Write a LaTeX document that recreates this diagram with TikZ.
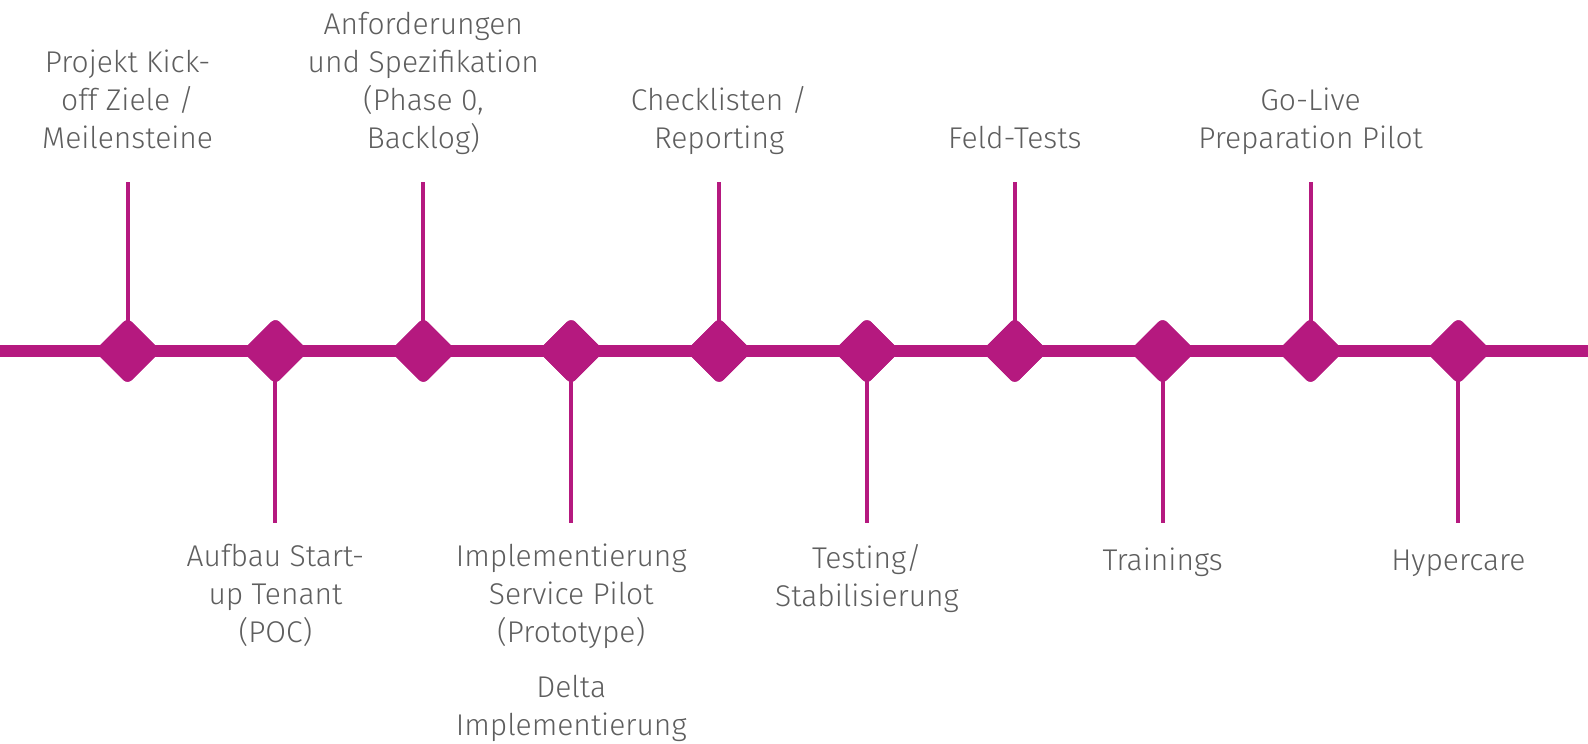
\documentclass[tikz,border=0pt]{standalone}
\usepackage{fontspec}
\setmainfont{Fira Sans}[UprightFont=* Light]
\definecolor{mag}{HTML}{B5197F}
\definecolor{txt}{HTML}{5E5E5E}
\tikzset{
  ms/.style={fill=mag, draw=none, rotate=45, minimum size=47pt, inner sep=0pt, rounded corners=6pt},
  stem/.style={draw=mag, line width=4pt},
  axis/.style={draw=mag, line width=12pt},
  lbl/.style={text=txt, align=center, font=\fontsize{30pt}{38pt}\selectfont, inner sep=0pt,
    execute at begin node=\strut, execute at end node=\strut},
}
\begin{document}
\begin{tikzpicture}[x=1pt,y=-1pt]
\useasboundingbox (0,0) rectangle (1588,744);
\coordinate (L) at (0,351);
\coordinate (R) at (1588,351);
\draw[axis] (L) -- (R);
\foreach \i in {1,...,10}{
  \pgfmathsetmacro{\xx}{127.6+(\i-1)*147.87}
  \pgfmathsetmacro{\yy}{isodd(\i) ? 182 : 523}
  \coordinate (s\i) at (\xx,\yy);
  \node[ms] (d\i) at (\xx,351) {};
  \draw[stem] (d\i.center) -- (s\i);
  \node[ms] at (d\i) {};
}
\node[lbl, anchor=south] (l1) at ([yshift=22pt]s1) {Projekt Kick-\\off Ziele /\\Meilensteine};
\node[lbl, anchor=south] (l3) at ([yshift=22pt]s3) {Anforderungen\\und Spezifikation\\(Phase 0,\\Backlog)};
\node[lbl, anchor=south] (l5) at ([yshift=22pt]s5) {Checklisten /\\Reporting};
\node[lbl, anchor=south] (l7) at ([yshift=22pt]s7) {Feld-Tests};
\node[lbl, anchor=south] (l9) at ([yshift=22pt]s9) {Go-Live\\Preparation Pilot};
\node[lbl, anchor=north] (l2) at ([yshift=-21pt]s2) {Aufbau Start-\\up Tenant\\(POC)};
\node[lbl, anchor=north] (l4) at ([yshift=-21pt]s4) {Implementierung\\Service Pilot\\(Prototype)\\[17pt]Delta\\Implementierung};
\node[lbl, anchor=north] (l6) at ([yshift=-21pt]s6) {Testing/\\Stabilisierung};
\node[lbl, anchor=north] (l8) at ([yshift=-21pt]s8) {Trainings};
\node[lbl, anchor=north] (l10) at ([yshift=-21pt]s10) {Hypercare};
\end{tikzpicture}
\end{document}
